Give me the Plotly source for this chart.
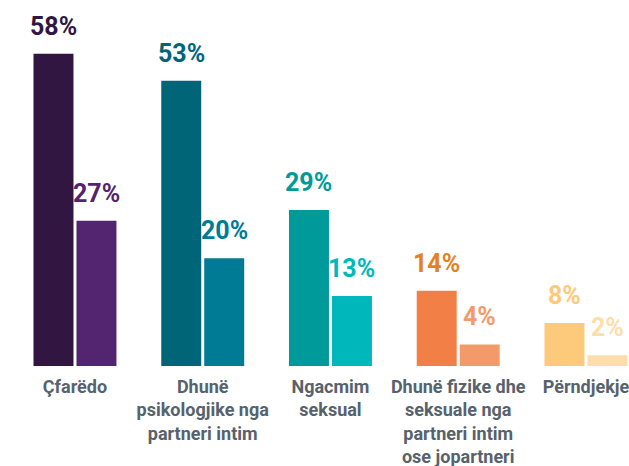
import plotly.graph_objects as go

categories = ["Çfarëdo", "Dhunë<br>psikologjike nga<br>partneri intim", "Ngacmim<br>seksual",
              "Dhunë fizike dhe<br>seksuale nga<br>partneri intim<br>ose jopartneri", "Përndjekje"]
series_a = [58, 53, 29, 14, 8]
series_b = [27, 20, 13, 4, 2]
colors_a = ["#311641", "#006677", "#009A9B", "#F27F45", "#FDC97B"]
colors_b = ["#532470", "#007B95", "#00B8BC", "#F49A6A", "#FDDEA9"]
text_a = ["#311641", "#006677", "#009A9B", "#E3821F", "#FDC97B"]
text_b = ["#532470", "#007B95", "#00B8BC", "#F49A6A", "#FDDEA9"]

xs = list(range(len(categories)))
FONT = "Roboto, Arial"

fig = go.Figure()
fig.add_trace(go.Bar(x=xs, y=series_a, marker=dict(color=colors_a, line=dict(width=0)), offsetgroup="a"))
fig.add_trace(go.Bar(x=xs, y=series_b, marker=dict(color=colors_b, line=dict(width=0)), offsetgroup="b"))

slot = (1 - 0.327) / 2
for i in xs:
    for vals, cols, k in ((series_a, text_a, -1), (series_b, text_b, 1)):
        fig.add_annotation(x=i + k * slot / 2, y=vals[i], text=f"<b>{vals[i]}%</b>",
                           showarrow=False, yanchor="bottom", yshift=11,
                           font=dict(family=FONT, size=25, color=cols[i]))

fig.update_layout(
    width=629, height=466, barmode="group", bargap=0.327, bargroupgap=0.07,
    showlegend=False, plot_bgcolor="white", paper_bgcolor="white",
    margin=dict(l=0, r=0, t=0, b=100, autoexpand=False),
    xaxis=dict(range=[-0.587, 4.337], tickvals=xs, ticktext=[f"<b>{c}</b>" for c in categories],
               showgrid=False, zeroline=False, showline=False, ticks="", automargin=False,
               ticklabeloverflow="allow", ticklabelstandoff=8,
               tickfont=dict(family=FONT, size=18, color="#56626C")),
    yaxis=dict(range=[0, 68], visible=False, automargin=False),
)
fig.write_html("out.html", config={"displayModeBar": False},
               post_script="document.body.style.margin='0';document.body.style.overflow='hidden';")
